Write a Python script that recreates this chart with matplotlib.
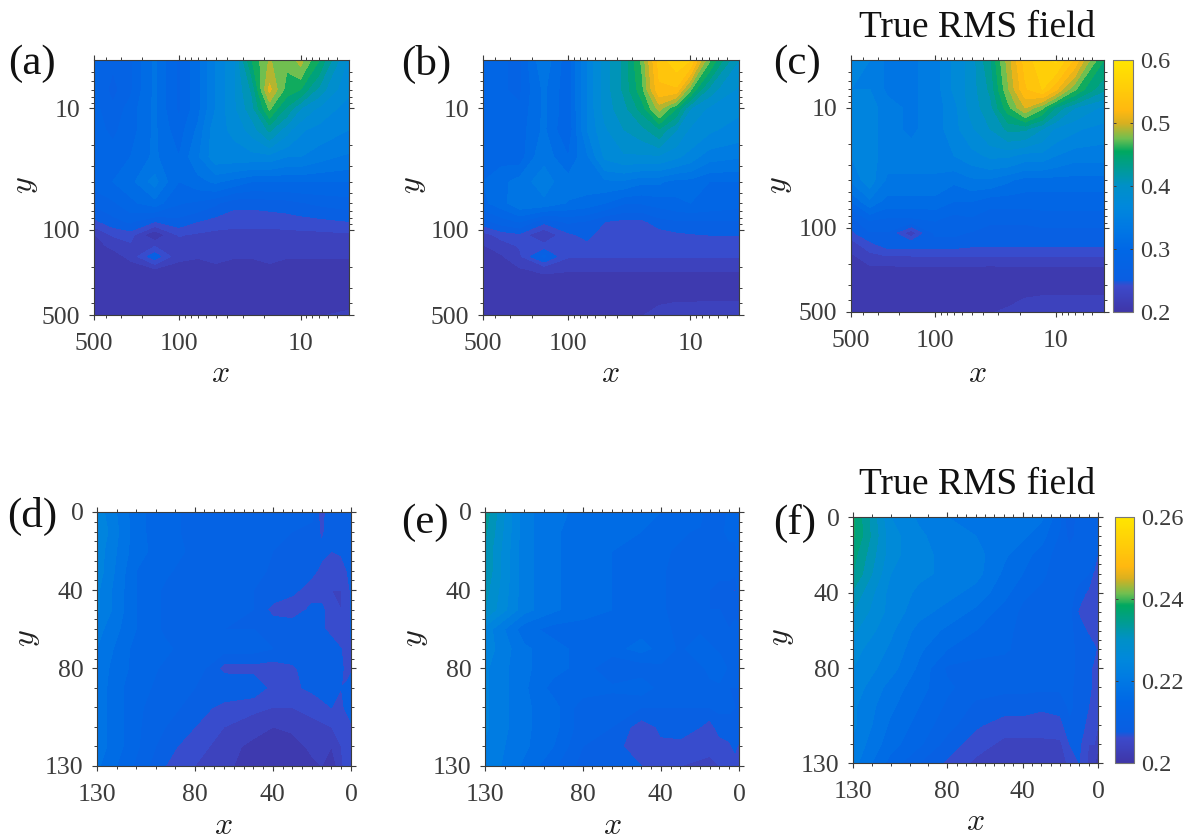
import matplotlib
matplotlib.use('Agg')
import matplotlib.pyplot as plt
import numpy as np
from matplotlib.cm import ScalarMappable
from matplotlib.colors import LinearSegmentedColormap, Normalize
from matplotlib.ticker import FixedLocator, NullFormatter

plt.rcParams['font.family'] = ['Liberation Serif', 'DejaVu Serif']
plt.rcParams['mathtext.fontset'] = 'cm'

W, H = 1192, 840
INK = '#3c3c3c'

# top row: log axes
x_log = [500, 350, 250, 158, 100, 70, 50, 35, 25, 18, 13, 10, 7, 4]
y_log = [4, 7, 10, 15, 25, 40, 60, 85, 110, 135, 165, 210, 300, 500]

rms_a = [
    [.29, .27, .28, .32, .28, .31, .35, .38, .45, .485, .47, .49, .45, .38],
    [.29, .26, .28, .32, .28, .31, .35, .38, .42, .505, .46, .45, .41, .37],
    [.29, .27, .29, .32, .28, .31, .35, .38, .41, .47, .43, .40, .38, .36],
    [.29, .28, .29, .32, .29, .32, .36, .37, .39, .42, .39, .37, .36, .35],
    [.29, .29, .30, .32, .30, .33, .36, .36, .36, .36, .35, .35, .34, .33],
    [.29, .30, .31, .34, .30, .31, .32, .31, .30, .30, .30, .30, .30, .30],
    [.27, .28, .295, .31, .285, .28, .27, .255, .255, .258, .26, .265, .27, .275],
    [.245, .26, .27, .25, .26, .25, .242, .238, .238, .238, .24, .242, .245, .25],
    [.215, .235, .24, .20, .235, .23, .228, .228, .228, .228, .228, .228, .228, .23],
    [.21, .22, .23, .232, .225, .225, .222, .222, .222, .222, .222, .222, .222, .223],
    [.205, .21, .22, .26, .222, .218, .226, .218, .218, .226, .218, .218, .218, .218],
    [.20, .205, .21, .215, .208, .208, .208, .208, .208, .208, .208, .208, .208, .208],
    [.205, .205, .205, .205, .205, .205, .205, .205, .205, .205, .205, .205, .205, .205],
    [.205, .205, .205, .205, .205, .205, .205, .205, .205, .205, .205, .212, .215, .22],
]

rms_b = [
    [.30, .285, .28, .33, .29, .35, .39, .42, .47, .54, .56, .55, .47, .40],
    [.30, .285, .28, .32, .29, .35, .39, .42, .46, .53, .53, .47, .41, .38],
    [.30, .285, .285, .32, .29, .35, .39, .41, .44, .49, .45, .40, .38, .37],
    [.30, .29, .29, .32, .285, .35, .38, .40, .41, .43, .40, .38, .37, .36],
    [.30, .295, .29, .33, .30, .33, .37, .38, .38, .38, .37, .36, .34, .335],
    [.30, .31, .325, .34, .325, .325, .33, .33, .32, .32, .31, .31, .30, .30],
    [.295, .31, .33, .33, .315, .31, .30, .285, .285, .29, .295, .30, .295, .29],
    [.26, .275, .285, .255, .27, .265, .25, .245, .245, .26, .265, .265, .265, .265],
    [.225, .24, .245, .215, .245, .255, .24, .238, .238, .24, .245, .248, .25, .25],
    [.215, .225, .235, .24, .245, .245, .24, .238, .238, .24, .24, .24, .242, .242],
    [.21, .215, .23, .27, .235, .235, .235, .235, .235, .234, .234, .234, .234, .234],
    [.205, .21, .215, .22, .218, .218, .218, .218, .218, .218, .218, .218, .218, .218],
    [.205, .205, .205, .205, .205, .205, .205, .205, .205, .205, .205, .205, .205, .205],
    [.205, .205, .205, .205, .205, .205, .205, .21, .215, .225, .23, .23, .232, .232],
]

rms_c = [
    [.36, .35, .33, .33, .34, .37, .39, .43, .49, .54, .56, .57, .53, .45],
    [.35, .35, .33, .33, .34, .37, .39, .42, .48, .53, .55, .52, .47, .42],
    [.36, .36, .34, .33, .34, .36, .39, .41, .46, .50, .47, .43, .40, .38],
    [.36, .36, .34, .33, .34, .36, .38, .40, .42, .42, .40, .38, .37, .36],
    [.35, .36, .34, .34, .34, .35, .36, .37, .37, .36, .36, .35, .34, .34],
    [.335, .36, .33, .33, .33, .32, .33, .33, .32, .31, .31, .31, .31, .31],
    [.30, .33, .31, .31, .31, .30, .30, .29, .29, .29, .29, .29, .29, .29],
    [.26, .285, .28, .28, .285, .275, .28, .27, .27, .27, .275, .275, .275, .275],
    [.245, .265, .265, .22, .27, .27, .265, .26, .26, .26, .26, .26, .26, .26],
    [.225, .245, .26, .26, .26, .26, .255, .255, .255, .255, .255, .255, .255, .255],
    [.215, .23, .236, .236, .237, .237, .237, .237, .237, .237, .237, .237, .237, .237],
    [.21, .215, .215, .216, .216, .216, .216, .215, .216, .216, .216, .216, .216, .216],
    [.21, .21, .205, .203, .205, .203, .203, .203, .205, .207, .21, .21, .21, .21],
    [.21, .21, .21, .215, .21, .21, .21, .215, .22, .23, .23, .23, .23, .23],
]

# bottom row: linear axes
x_lin = [130, 110, 95, 80, 65, 50, 40, 30, 20, 15, 10, 5, 2, 0]
y_lin = [0, 10, 20, 30, 40, 50, 60, 70, 80, 90, 100, 110, 120, 130]

rms_d = [
    [.224, .216, .213, .212, .212, .212, .211, .211, .211, .206, .210, .210, .210, .210],
    [.225, .216, .213, .212, .212, .212, .211, .210, .209, .207, .209, .209, .209, .209],
    [.224, .216, .2135, .212, .211, .211, .210, .209, .209, .208, .2075, .208, .209, .209],
    [.224, .215, .213, .211, .211, .211, .2095, .209, .208, .207, .206, .206, .2075, .209],
    [.223, .215, .212, .211, .211, .210, .2095, .208, .2065, .2065, .205, .205, .206, .208],
    [.223, .215, .212, .211, .211, .210, .2065, .2062, .208, .208, .206, .205, .206, .208],
    [.221, .215, .212, .211, .210, .210, .2095, .209, .209, .208, .2065, .2055, .206, .208],
    [.220, .214, .213, .211, .211, .211, .210, .2095, .209, .209, .209, .2075, .2065, .207],
    [.219, .214, .212, .212, .2065, .2065, .206, .207, .209, .209, .209, .208, .2065, .207],
    [.219, .213, .212, .210, .210, .2095, .2065, .207, .208, .209, .209, .2075, .208, .209],
    [.219, .213, .211, .209, .2065, .2055, .205, .205, .206, .2065, .2075, .207, .208, .209],
    [.219, .213, .210, .2075, .205, .204, .2025, .203, .204, .2045, .205, .206, .2065, .207],
    [.219, .213, .2085, .206, .204, .2015, .2005, .2015, .203, .2035, .2025, .205, .206, .2065],
    [.218, .212, .2075, .205, .203, .2015, .2005, .2005, .202, .2025, .2005, .2045, .206, .2065],
]

rms_e = [
    [.234, .221, .218, .217, .216, .216, .215, .214, .214, .210, .211, .213, .214, .214],
    [.233, .221, .218, .216, .216, .215, .214, .213, .212, .210, .212, .213, .213, .213],
    [.232, .221, .218, .216, .215, .215, .213, .212, .212, .211, .212, .212, .212, .213],
    [.232, .221, .218, .216, .215, .214, .213, .211, .211, .211, .211, .211, .211, .212],
    [.231, .221, .218, .216, .215, .215, .213, .211, .211, .210, .209, .209, .207, .211],
    [.230, .221, .218, .216, .215, .215, .213, .211, .211, .210, .210, .208, .209, .208],
    [.224, .216, .214, .214, .213, .214, .213, .212, .212, .211, .211, .210, .211, .211],
    [.224, .218, .216, .214, .214, .216, .214, .212, .214, .213, .212, .211, .211, .211],
    [.223, .218, .216, .214, .210, .211, .212, .211, .212, .213, .214, .212, .211, .211],
    [.223, .218, .214, .214, .213, .214, .2115, .211, .212, .212, .212, .210, .210, .210],
    [.223, .218, .216, .211, .211, .210, .210, .210, .210, .210, .2105, .2105, .210, .210],
    [.223, .218, .216, .211, .210, .206, .208, .209, .2075, .206, .209, .209, .209, .209],
    [.222, .218, .215, .210, .209, .205, .207, .2065, .206, .2055, .206, .207, .208, .207],
    [.222, .217, .213, .209, .208, .2075, .2065, .205, .2045, .2045, .205, .2065, .2065, .206],
]

rms_f = [
    [.238, .225, .222, .220, .220, .220, .219, .218, .213, .207, .212, .212, .212, .212],
    [.238, .226, .223, .221, .220, .219, .218, .216, .212, .209, .211, .211, .211, .211],
    [.236, .226, .223, .222, .221, .218, .216, .214, .211, .211, .211, .211, .211, .2068],
    [.235, .225, .223, .222, .221, .217, .215, .213, .211, .211, .211, .210, .2065, .206],
    [.232, .224, .222, .221, .219, .216, .213, .212, .211, .211, .209, .2068, .2062, .206],
    [.230, .224, .221, .219, .217, .214, .212, .211, .2105, .2105, .207, .206, .205, .206],
    [.228, .223, .219, .217, .215, .213, .212, .2105, .2105, .2105, .209, .207, .206, .206],
    [.226, .222, .218, .215, .214, .213, .2115, .2105, .2105, .2105, .2095, .209, .208, .207],
    [.225, .221, .217, .212, .211, .211, .211, .211, .2105, .2105, .2095, .208, .207, .2065],
    [.224, .219, .216, .213, .211, .2105, .2105, .2105, .2105, .2105, .209, .208, .207, .2065],
    [.223, .218, .215, .212, .2095, .209, .209, .208, .2085, .2105, .209, .2075, .2065, .2062],
    [.223, .217, .214, .211, .208, .206, .206, .206, .2065, .2095, .2085, .2068, .206, .205],
    [.222, .216, .213, .209, .206, .2045, .2045, .2045, .2045, .2075, .208, .205, .205, .203],
    [.221, .214, .210, .207, .2045, .2035, .203, .203, .204, .2055, .2075, .2045, .203, .201],
]

# colormap
cmap = LinearSegmentedColormap.from_list('rms', [
    (0.00, '#3f36a8'), (0.10, '#3c4acb'), (0.125, '#0a5ee2'), (0.25, '#0068e6'),
    (0.33, '#0078e4'), (0.42, '#0088dc'), (0.50, '#0090c8'), (0.64, '#00a860'),
    (0.69, '#70bf50'), (0.75, '#d8b020'), (0.80, '#ffb810'), (1.00, '#ffe600')])


def px_axes(left, top, right, bottom):
    return fig.add_axes([left / W, 1 - bottom / H, (right - left) / W, (bottom - top) / H])


def put(x, y, s, **kw):
    fig.text(x / W, 1 - y / H, s, ha='center', va='center', **kw)


def style_ticks(ax):
    ax.tick_params(which='major', direction='out', length=3.8, width=0.8, color=INK,
                   top=True, right=True, labelsize=18.5, labelcolor=INK)
    ax.tick_params(which='minor', direction='out', length=2.2, width=0.7, color=INK,
                   top=True, right=True)
    ax.tick_params(axis='x', which='major', pad=9)
    ax.tick_params(axis='y', which='major', pad=6)
    for s in ax.spines.values():
        s.set_color(INK)
        s.set_linewidth(0.8)


def draw_log(box, z):
    ax = px_axes(*box)
    ax.set_xscale('log')
    ax.set_yscale('log')
    ax.contourf(x_log, y_log, z, levels=np.linspace(.2, .6, 25), cmap=cmap, vmin=.2, vmax=.6)
    ax.set_xlim(500, 4)
    ax.set_ylim(500, 4)
    ax.set_xticks([500, 100, 10], ['500', '100', '10'])
    ax.set_yticks([500, 100, 10], ['500', '100', '10'])
    minor = [5, 6, 7, 8, 9, 20, 30, 40, 50, 60, 70, 80, 90, 200, 300, 400]
    for a in (ax.xaxis, ax.yaxis):
        a.set_minor_locator(FixedLocator(minor))
        a.set_minor_formatter(NullFormatter())
    style_ticks(ax)
    return ax


def draw_lin(box, z):
    ax = px_axes(*box)
    ax.contourf(x_lin, y_lin, z, levels=np.linspace(.2, .26, 25), cmap=cmap, vmin=.2, vmax=.26)
    ax.set_xlim(130, 0)
    ax.set_ylim(130, 0)
    ax.set_xticks([130, 80, 40, 0], ['130', '80', '40', '0'])
    ax.set_yticks([130, 80, 40, 0], ['130', '80', '40', '0'])
    minor = [5, 10, 15, 20, 25, 30, 35, 45, 50, 55, 60, 65, 70, 75, 90, 100, 110, 120]
    for a in (ax.xaxis, ax.yaxis):
        a.set_minor_locator(FixedLocator(minor))
    style_ticks(ax)
    return ax


def draw_cbar(box, vmin, vmax, ticks, labels):
    cax = px_axes(*box)
    sm = ScalarMappable(norm=Normalize(vmin, vmax), cmap=cmap)
    cb = fig.colorbar(sm, cax=cax)
    cb.set_ticks(ticks, labels=labels)
    cb.ax.minorticks_off()
    cb.ax.tick_params(direction='in', length=2.5, width=0.7, color=INK, labelsize=17.5,
                      labelcolor=INK, pad=5, right=True, left=True)
    cb.outline.set_edgecolor('#777777')
    cb.outline.set_linewidth(0.8)


fig = plt.figure(figsize=(W / 100, H / 100), dpi=100)

draw_log((94, 60, 349, 315), rms_a)
draw_log((483, 60, 739, 315), rms_b)
draw_log((851, 60, 1104, 312), rms_c)
draw_lin((97, 512, 351, 766), rms_d)
draw_lin((485, 512, 739, 766), rms_e)
draw_lin((853, 517, 1098, 763), rms_f)

draw_cbar((1113, 60, 1133, 312), .2, .6, [.2, .3, .4, .5, .6], ['0.2', '0.3', '0.4', '0.5', '0.6'])
draw_cbar((1115, 517, 1134, 763), .2, .26, [.2, .22, .24, .26], ['0.2', '0.22', '0.24', '0.26'])

# panel letters
panel_pos = [('(a)', 32, 64), ('(b)', 426, 64), ('(c)', 797, 64),
             ('(d)', 32, 516), ('(e)', 425, 523), ('(f)', 795, 523)]
for s, px, py in panel_pos:
    put(px, py, s, fontsize=31, color='#111111')

put(977, 28, 'True RMS field', fontsize=27, color='#111111')
put(977, 485, 'True RMS field', fontsize=27, color='#111111')

# axis labels
xlab_pos = [(220, 375), (610, 375), (977, 375), (223, 827), (612, 827), (975, 823)]
ylab_pos = [(25, 185), (413, 185), (780, 185), (27, 638), (415, 638), (782, 637)]
for px, py in xlab_pos:
    put(px, py, '$x$', fontsize=23, color='#222222')
for px, py in ylab_pos:
    put(px, py, '$y$', fontsize=23, color='#222222', rotation=90)

fig.savefig('out.png', dpi=100)
